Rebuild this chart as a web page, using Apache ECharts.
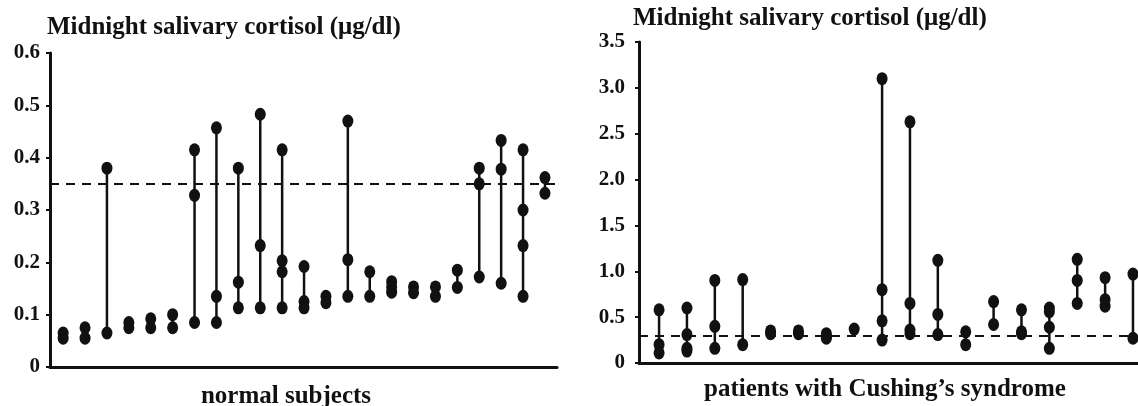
<!DOCTYPE html>
<html><head><meta charset="utf-8">
<script src="https://cdn.jsdelivr.net/npm/echarts@6/dist/echarts.min.js"></script>
<style>html,body{margin:0;padding:0;background:#fff}#c{width:1138px;height:406px}</style>
</head><body><div id="c"></div>
<script>
const titleText = 'Midnight salivary cortisol (μg/dl)';
const normalLabel = 'normal subjects';
const cushingLabel = 'patients with Cushing\u2019s syndrome';
const normalCutoff = 0.35;
const cushingCutoff = 0.3;
// each inner array: the repeated measurements of one subject
const normalValues = [
  [0.065, 0.055], [0.075, 0.055], [0.38, 0.065], [0.085, 0.075], [0.092, 0.075],
  [0.10, 0.075], [0.415, 0.328, 0.085], [0.457, 0.135, 0.085], [0.38, 0.162, 0.113],
  [0.483, 0.232, 0.113], [0.415, 0.203, 0.182, 0.113], [0.192, 0.125, 0.113],
  [0.135, 0.123], [0.47, 0.205, 0.135], [0.182, 0.135], [0.163, 0.153, 0.143],
  [0.153, 0.142], [0.153, 0.135], [0.185, 0.152], [0.38, 0.35, 0.172],
  [0.433, 0.378, 0.16], [0.415, 0.30, 0.232, 0.135], [0.362, 0.332]
];
const cushingValues = [
  [0.58, 0.2, 0.11], [0.6, 0.31, 0.16, 0.13], [0.9, 0.4, 0.16], [0.91, 0.2],
  [0.35, 0.32], [0.35, 0.32], [0.32, 0.29, 0.27], [0.37],
  [3.1, 0.8, 0.46, 0.25], [2.63, 0.65, 0.36, 0.32], [1.12, 0.53, 0.31], [0.34, 0.2],
  [0.67, 0.42], [0.58, 0.34, 0.32], [0.6, 0.56, 0.39, 0.16], [1.13, 0.9, 0.65],
  [0.93, 0.69, 0.62], [0.97, 0.27]
];
const normalTicks = [0, 0.1, 0.2, 0.3, 0.4, 0.5, 0.6];
const cushingTicks = [0, 0.5, 1.0, 1.5, 2.0, 2.5, 3.0, 3.5];

const FONT = '"Liberation Serif","Times New Roman",serif';
const chart = echarts.init(document.getElementById('c'), null, {renderer: 'canvas'});
const fmt = v => v === 0 ? '0' : v.toFixed(1);

function colSeries(values, axisIdx) {
  return values.map((col, i) => ({
    type: 'line', xAxisIndex: axisIdx, yAxisIndex: axisIdx,
    data: col.map(v => [i, v]),
    symbol: 'circle', symbolSize: [11, 13], showSymbol: true,
    itemStyle: {color: '#111'}, lineStyle: {color: '#111', width: 2.5},
    silent: true, animation: false, z: 3
  }));
}
function cutSeries(value, axisIdx) {
  return {
    type: 'line', xAxisIndex: axisIdx, yAxisIndex: axisIdx, data: [], animation: false,
    markLine: {silent: true, symbol: 'none', label: {show: false},
      lineStyle: {color: '#111', width: 2, type: [9, 7]},
      data: [{yAxis: value}]}
  };
}
function yAxisCfg(idx, ticks, step, margin) {
  return {gridIndex: idx, type: 'value', min: ticks[0], max: ticks[ticks.length - 1], interval: step,
    axisLabel: {color: '#111', fontFamily: FONT, fontWeight: 'bold', fontSize: 21, margin: margin, formatter: fmt},
    axisTick: {show: true, length: 4, lineStyle: {color: '#111', width: 2}},
    splitLine: {show: false},
    axisLine: {show: true, onZero: false, lineStyle: {color: '#111', width: 3}}};
}
function xAxisCfg(idx, min, max) {
  return {gridIndex: idx, type: 'value', min: min, max: max, axisLabel: {show: false}, axisTick: {show: false},
    splitLine: {show: false}, axisLine: {onZero: false, lineStyle: {color: '#111', width: 3}}};
}
const tStyle = {fontFamily: FONT, fontWeight: 'bold', fontSize: 25, color: '#111'};
chart.setOption({
  backgroundColor: '#fff',
  animation: false,
  grid: [
    {left: 50, right: 581, top: 53, bottom: 39},
    {left: 639, right: 0, top: 42, bottom: 43}
  ],
  xAxis: [xAxisCfg(0, -0.6, 22.55), xAxisCfg(1, -0.72, 17.18)],
  yAxis: [yAxisCfg(0, normalTicks, 0.1, 10), yAxisCfg(1, cushingTicks, 0.5, 14)],
  title: [
    {text: titleText, left: 47, top: 15, padding: 0, textStyle: tStyle},
    {text: titleText, left: 633, top: 6, padding: 0, textStyle: tStyle},
    {text: normalLabel, left: 286, textAlign: 'center', top: 384, padding: 0, textStyle: tStyle},
    {text: cushingLabel, left: 885, textAlign: 'center', top: 377, padding: 0, textStyle: tStyle}
  ],
  series: [
    cutSeries(normalCutoff, 0), cutSeries(cushingCutoff, 1),
    ...colSeries(normalValues, 0), ...colSeries(cushingValues, 1)
  ]
});
</script></body></html>
